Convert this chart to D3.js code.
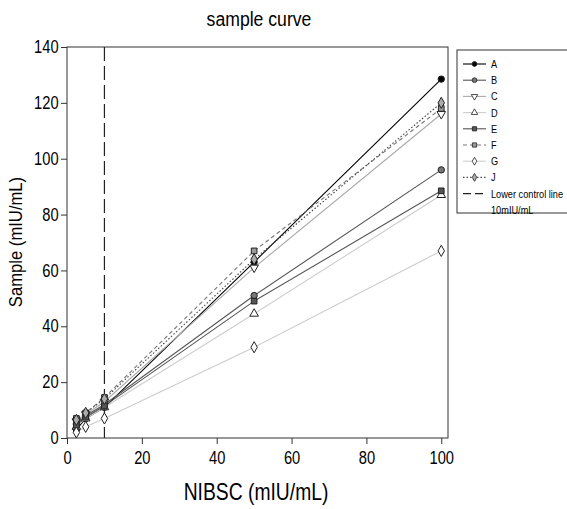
<!DOCTYPE html>
<html>
<head>
<meta charset="utf-8">
<script src="https://cdn.jsdelivr.net/npm/d3@7"></script>
<style>
  body { margin: 0; background: #fff; }
  text { font-family: "Liberation Sans", Arial, sans-serif; }
</style>
</head>
<body>
<svg id="chart" width="567" height="509"></svg>
<script>
// concentrations (NIBSC, mIU/mL)
const conc = [2.5, 5, 10, 50, 100];
const seriesNames = ["A", "B", "C", "D", "E", "F", "G", "J"];
const valA = [3, 7, 11, 63, 128.5];
const valB = [5, 8, 12, 51, 96];
const valC = [6, 8.5, 13, 61, 116];
const valD = [4, 7, 11, 44.5, 87];
const valE = [4.5, 7.5, 11.5, 49, 88.5];
const valF = [7, 9, 14.5, 67, 118];
const valG = [2, 4, 7, 32.5, 67];
const valJ = [6.5, 9, 14, 64, 120];
const controlLine = 10;
const xTicks = [0, 20, 40, 60, 80, 100];
const yTicks = [0, 20, 40, 60, 80, 100, 120, 140];

// line / marker look for each series
const styles = {
  A: {stroke: "#000", dash: null, sym: d3.symbolCircle, fill: "#000"},
  B: {stroke: "#555", dash: null, sym: d3.symbolCircle, fill: "#777"},
  C: {stroke: "#aaa", dash: null, sym: d3.symbolTriangle, rot: 180, fill: "#fff"},
  D: {stroke: "#ccc", dash: null, sym: d3.symbolTriangle, fill: "#fff"},
  E: {stroke: "#555", dash: null, sym: d3.symbolSquare, fill: "#555"},
  F: {stroke: "#777", dash: "4,3", sym: d3.symbolSquare, fill: "#999"},
  G: {stroke: "#ccc", dash: null, sym: d3.symbolDiamond, fill: "#fff"},
  J: {stroke: "#444", dash: "1.5,2", sym: d3.symbolDiamond, fill: "#aaa"}
};
const allVals = {A: valA, B: valB, C: valC, D: valD, E: valE, F: valF, G: valG, J: valJ};

const svg = d3.select("#chart");
const pLeft = 67, pRight = 448, pTop = 47, pBottom = 438;
const narrow = "scale(0.84,1)";

const x = d3.scaleLinear([0, 101.8], [pLeft, pRight]);
const y = d3.scaleLinear([0, 140], [pBottom, pTop]);

// title
svg.append("text").attr("transform", `translate(259,26) ${narrow}`).attr("text-anchor", "middle")
  .attr("font-size", 21).text("sample curve");

// frame
svg.append("rect").attr("x", pLeft).attr("y", pTop)
  .attr("width", pRight - pLeft).attr("height", pBottom - pTop)
  .attr("fill", "none").attr("stroke", "#333").attr("stroke-width", 1);

// axes
let xAxis = svg.append("g").attr("transform", `translate(0,${pBottom})`)
  .call(d3.axisBottom(x).tickValues(xTicks).tickSize(6).tickSizeOuter(0));
let yAxis = svg.append("g").attr("transform", `translate(${pLeft},0)`)
  .call(d3.axisLeft(y).tickValues(yTicks).tickSize(6).tickSizeOuter(0));
[xAxis, yAxis].forEach(g => {
  g.select(".domain").remove();
  g.selectAll(".tick line").attr("stroke", "#333");
  g.selectAll(".tick text").attr("font-size", 17.5).attr("fill", "#000")
    .style("font-family", '"Liberation Sans", Arial, sans-serif')
    .attr("transform", narrow);
});
xAxis.selectAll(".tick text").attr("dy", "0.95em");
yAxis.selectAll(".tick text").attr("x", -10);

// axis titles
svg.append("text").attr("transform", `translate(256,500) ${narrow}`).attr("text-anchor", "middle")
  .attr("font-size", 23).text("NIBSC (mIU/mL)");
svg.append("text").attr("transform", "translate(22,242) rotate(-90) scale(0.9,1)")
  .attr("text-anchor", "middle").attr("font-size", 18.5).text("Sample (mIU/mL)");

// lower control line
svg.append("line").attr("x1", x(controlLine)).attr("x2", x(controlLine))
  .attr("y1", pTop).attr("y2", pBottom)
  .attr("stroke", "#222").attr("stroke-width", 1.2).attr("stroke-dasharray", "14,5");

const line = d3.line().x((d, i) => x(conc[i])).y(d => y(d));

// lines first, then markers on top
seriesNames.forEach(name => {
  let st = styles[name];
  svg.append("path").attr("d", line(allVals[name]))
    .attr("fill", "none").attr("stroke", st.stroke).attr("stroke-width", 1.1)
    .attr("stroke-dasharray", st.dash);
});
seriesNames.forEach(name => {
  let st = styles[name];
  let sym = d3.symbol().type(st.sym).size(st.sym === d3.symbolDiamond ? 36 : 32);
  svg.append("g").selectAll("path").data(allVals[name]).join("path")
    .attr("d", sym)
    .attr("transform", (d, i) => `translate(${x(conc[i])},${y(d)}) rotate(${st.rot || 0})`)
    .attr("fill", st.fill).attr("stroke", "#222").attr("stroke-width", 1);
});

// legend
const lg = svg.append("g");
lg.append("rect").attr("x", 457).attr("y", 50).attr("width", 115).attr("height", 163)
  .attr("fill", "#fff").attr("stroke", "#333");
const legendItems = seriesNames.concat(["ctrl"]);
const legendText = (ly, label) => lg.append("text")
  .attr("transform", `translate(491,${ly + 4}) scale(0.8,1)`)
  .attr("font-size", 11.5).text(label);
legendItems.forEach((name, i) => {
  let ly = 64 + i * 16.2;
  if (name === "ctrl") {
    lg.append("line").attr("x1", 463).attr("x2", 486).attr("y1", ly).attr("y2", ly)
      .attr("stroke", "#222").attr("stroke-width", 1.1).attr("stroke-dasharray", "8,4");
    legendText(ly, "Lower control line");
    legendText(ly + 16, "10mIU/mL");
    return;
  }
  let st = styles[name];
  lg.append("line").attr("x1", 463).attr("x2", 486).attr("y1", ly).attr("y2", ly)
    .attr("stroke", st.stroke).attr("stroke-width", 1.1).attr("stroke-dasharray", st.dash);
  lg.append("path").attr("d", d3.symbol().type(st.sym).size(18))
    .attr("transform", `translate(474.5,${ly}) rotate(${st.rot || 0})`)
    .attr("fill", st.fill).attr("stroke", "#222").attr("stroke-width", 0.8);
  legendText(ly, name);
});
</script>
</body>
</html>
